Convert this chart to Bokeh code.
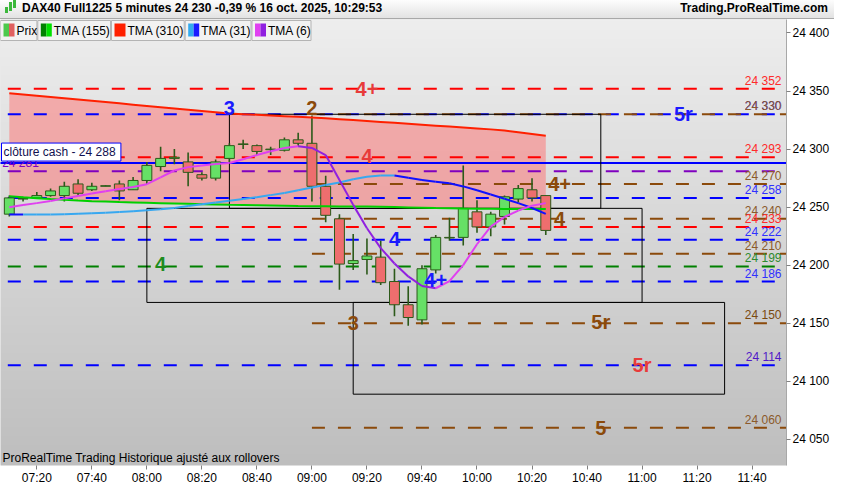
import numpy as np
from bokeh.plotting import figure
from bokeh.models import Range1d, FixedTicker, BoxAnnotation, Label, Div, ColumnDataSource
from bokeh.layouts import column
from bokeh.embed import file_html
from bokeh.resources import INLINE
from bokeh.core.properties import value

# ---------------- data ----------------
times = ["07:10", "07:15", "07:20", "07:25", "07:30", "07:35", "07:40", "07:45", "07:50", "07:55",
         "08:00", "08:05", "08:10", "08:15", "08:20", "08:25", "08:30", "08:35", "08:40", "08:45",
         "08:50", "08:55", "09:00", "09:05", "09:10", "09:15", "09:20", "09:25", "09:30", "09:35",
         "09:40", "09:45", "09:50", "09:55", "10:00", "10:05", "10:10", "10:15", "10:20", "10:25"]
opens = [24244, 24257, 24258, 24260, 24260, 24270, 24265, 24268, 24270, 24265,
         24273, 24285, 24292, 24289, 24278, 24275, 24292, 24304, 24303, 24299.5,
         24299, 24308, 24305, 24268, 24240, 24201.5, 24205, 24207, 24186, 24166,
         24153, 24196, 24224, 24224, 24246, 24233, 24242, 24257, 24265, 24260]
highs = [24260, 24259, 24263, 24266, 24272, 24274, 24271, 24268.8, 24273, 24276,
         24289, 24302, 24300, 24297, 24280, 24291, 24305, 24308, 24304, 24302,
         24310, 24314, 24329, 24277, 24244, 24227, 24223, 24221, 24197, 24182,
         24200, 24226, 24241, 24286, 24256, 24246, 24260, 24269, 24275, 24260]
lows = [24242, 24255, 24257, 24259, 24255, 24260, 24264, 24268, 24256, 24265,
        24270, 24281, 24287, 24268, 24273, 24273, 24289, 24300, 24295, 24295,
        24298, 24303, 24255, 24237, 24179, 24196, 24192, 24183, 24156, 24148,
        24149, 24193, 24221, 24217, 24228, 24225, 24235, 24254, 24255, 24226]
closes = [24258, 24257.5, 24260, 24264, 24268, 24262, 24268, 24268.5, 24264, 24273,
          24286, 24292, 24293, 24280, 24275, 24289, 24303, 24304.5, 24298, 24300,
          24308, 24305, 24268, 24243, 24201, 24204, 24208, 24185, 24166, 24155,
          24197, 24224, 24223.5, 24249, 24233, 24244, 24259, 24266, 24258, 24230]

tma155 = [24259.5, 24258.6, 24257.8, 24257.0, 24256.3, 24255.7, 24255.2, 24254.8, 24254.4, 24254.1,
          24253.8, 24253.5, 24253.2, 24252.9, 24252.6, 24252.3, 24252.0, 24251.8, 24251.6, 24251.4,
          24251.2, 24251.0, 24250.9, 24250.8, 24250.7, 24250.6, 24250.5, 24250.3, 24250.1, 24249.8,
          24249.5, 24249.2, 24249.0, 24248.8, 24248.7, 24248.6, 24248.5, 24248.5, 24248.5, 24248.5]
tma310 = [24348.0, 24347.0, 24346.0, 24344.9, 24343.8, 24342.7, 24341.6, 24340.5, 24339.4, 24338.3,
          24337.2, 24336.1, 24335.0, 24333.9, 24332.8, 24331.7, 24330.6, 24330.1, 24329.6, 24329.0,
          24328.4, 24327.8, 24327.2, 24326.5, 24325.8, 24325.0, 24324.2, 24323.4, 24322.6, 24321.8,
          24321.0, 24320.2, 24319.4, 24318.6, 24317.8, 24317.0, 24316.0, 24314.5, 24313.0, 24311.5]
tma31 = [24243.8, 24243.7, 24243.7, 24243.8, 24244.0, 24244.3, 24244.7, 24245.2, 24245.8, 24246.5,
         24247.3, 24248.2, 24249.3, 24251.0, 24252.5, 24254.0, 24255.5, 24257.0, 24258.6, 24260.4,
         24262.3, 24264.6, 24267.0, 24269.2, 24271.2, 24274.0, 24276.2, 24277.3, 24277.3, 24275.3,
         24273.4, 24272.0, 24270.6, 24267.9, 24264.6, 24260.9, 24257.3, 24253.5, 24249.3, 24244.3]
tma6 = [24249.9, 24251.8, 24253.5, 24255.4, 24257.6, 24259.6, 24261.7, 24263.7, 24265.6, 24267.3,
        24269.8, 24275.6, 24281.6, 24284.5, 24285.8, 24287.2, 24288.0, 24291.3, 24294.9, 24298.2,
        24301.0, 24302.4, 24301.0, 24294.9, 24273.4, 24252.0, 24231.9, 24214.8, 24201.5, 24190.4,
        24182.1, 24180.2, 24186.3, 24200.1, 24218.1, 24233.3, 24241.6, 24247.1, 24251.3, 24253.5]

RED, BLUE, BROWN, GREEN, PURPLE = "#ff0000", "#0000ff", "#8b4a0b", "#008000", "#7f00bf"
level_vals = [24352, 24330, 24330, 24293, 24281, 24270, 24258, 24240, 24233, 24222, 24210, 24199, 24186, 24150, 24114, 24060]
level_colors = [RED, BLUE, BROWN, RED, PURPLE, BROWN, BLUE, BROWN, RED, BLUE, BROWN, GREEN, BLUE, BROWN, BLUE, BROWN]
level_start = ["07:00", "07:00", "09:00", "07:00", "07:00", "09:00", "07:00", "09:00", "07:00", "07:00",
               "09:00", "07:00", "07:00", "09:00", "07:00", "09:00"]
level_label_colors = ["#ff2a2a", "#3030ff", "#8b5a2b", "#ff2a2a", "#8000c0", "#8b5a2b", "#3030ff", "#8b5a2b",
                      "#ff2a2a", "#3030ff", "#8b5a2b", "#2e8b2e", "#3030ff", "#7a4a10", "#5018c8", "#8b5a2b"]
cash_close = 24288

marks_text = ["4+", "3", "2", "5r", "4", "4+", "4", "4", "4", "4+", "3", "5r", "5r", "5"]
marks_time = ["09:20", "08:30", "09:00", "11:15", "09:20", "10:30", "10:30", "08:05", "09:30", "09:45",
              "09:15", "10:45", "11:00", "10:45"]
marks_price = [24352, 24335, 24335, 24330, 24294, 24270, 24240, 24201, 24223, 24187, 24150, 24151, 24114, 24060]
marks_color = ["#e83a3a", "#1a1aff", "#8b4a0b", "#1a1aff", "#e83a3a", "#8b4a0b", "#8b4a0b", "#1e8c1e",
               "#1a1aff", "#1a1aff", "#8b4a0b", "#8b4a0b", "#e83a3a", "#8b4a0b"]

box_left = ["08:30", "08:00", "09:15"]
box_right = ["10:45", "11:00", "11:30"]
box_top = [24330, 24249, 24168]
box_bottom = [24249, 24168, 24089]

x_ticks = ["07:20", "07:40", "08:00", "08:20", "08:40", "09:00", "09:20", "09:40", "10:00", "10:20",
           "10:40", "11:00", "11:20", "11:40"]
y_ticks = [24050, 24100, 24150, 24200, 24250, 24300, 24350, 24400]


def mins(t):
    h, m = t.split(":")
    return (int(h) - 7) * 60 + int(m)


def fmt(v):
    v = int(round(v))
    return f"{v // 1000} {v % 1000:03d}"


FONT = "Liberation Sans"
X0, X1 = 6.8, 292.5
Y0, Y1 = 24027.6, 24411.6
FW, FH = 786, 446

p = figure(frame_width=FW, frame_height=FH, x_range=Range1d(X0, X1), y_range=Range1d(Y0, Y1),
           output_backend="svg", toolbar_location=None, y_axis_location="right",
           min_border_left=0, min_border_top=0, min_border_right=48, min_border_bottom=19,
           outline_line_color=None, border_fill_color="white", background_fill_color="#d6d6d6")
p.xgrid.visible = False
p.ygrid.visible = False

# background gradient
n = 200
top = np.array([238, 238, 238], float)
bot = np.array([190, 190, 190], float)
img = np.zeros((n, 1), dtype=np.uint32)
view = img.view(dtype=np.uint8).reshape((n, 1, 4))
for k in range(n):
    c = bot + (top - bot) * k / (n - 1)
    view[k, 0, 0:3] = c.astype(np.uint8)
    view[k, 0, 3] = 255
p.image_rgba(image=[img], x=X0, y=Y0, dw=X1 - X0, dh=Y1 - Y0)

xs = [mins(t) for t in times]

# fill between TMA 310 and TMA 155
p.varea(x=xs, y1=tma155, y2=tma310, fill_color="#ff7070", fill_alpha=0.5)

# level lines
p.segment(x0=[mins(s) for s in level_start], y0=level_vals, x1=[300] * len(level_vals), y1=level_vals,
          line_color=level_colors, line_width=2, line_dash="13 13")
p.line(x=[0, 300], y=[cash_close, cash_close], line_color="#0000ff", line_width=2)

# boxes
p.quad(left=[mins(t) for t in box_left], right=[mins(t) for t in box_right], top=box_top, bottom=box_bottom,
       fill_color=None, line_color="black", line_width=1)

# candles
up = [c >= o for o, c in zip(opens, closes)]
src = ColumnDataSource(dict(
    x=xs, o=opens, h=highs, l=lows, c=closes,
    top=[max(o, c) for o, c in zip(opens, closes)],
    bottom=[min(o, c) for o, c in zip(opens, closes)],
    color=["#66e066" if u else "#ee6e6e" for u in up]))
p.segment(x0="x", y0="h", x1="x", y1="l", source=src, line_color="#2c5a1a", line_width=1.6)
p.vbar(x="x", top="top", bottom="bottom", width=3.6, source=src, fill_color="color",
       line_color="#2c5a1a", line_width=1)

# moving averages
p.line(x=xs, y=tma155, line_color="#00d000", line_width=2)
p.line(x=xs, y=tma310, line_color="#ff2000", line_width=2)


def seg_colors(vals, c_up, c_dn):
    return [c_up if b >= a else c_dn for a, b in zip(vals[:-1], vals[1:])]


p.segment(x0=xs[:-1], y0=tma31[:-1], x1=xs[1:], y1=tma31[1:],
          line_color=seg_colors(tma31, "#38a8f0", "#1010ff"), line_width=2)
p.segment(x0=xs[:-1], y0=tma6[:-1], x1=xs[1:], y1=tma6[1:],
          line_color=seg_colors(tma6, "#e040f0", "#9020e0"), line_width=2)

# level value labels on the right
right_idx = [i for i, c in enumerate(level_colors) if c != PURPLE]
p.text(x=[290.7] * len(right_idx), y=[level_vals[i] for i in right_idx],
       text=[fmt(level_vals[i]) for i in right_idx],
       text_color=[level_label_colors[i] for i in right_idx],
       text_align="right", text_baseline="bottom", y_offset=-1,
       text_font=value(FONT), text_font_size="12px")
left_idx = [i for i, c in enumerate(level_colors) if c == PURPLE]
p.text(x=[7.4] * len(left_idx), y=[level_vals[i] for i in left_idx],
       text=[fmt(level_vals[i]) for i in left_idx], text_color=[level_label_colors[i] for i in left_idx],
       text_align="left", text_baseline="bottom", y_offset=-1,
       text_font=value(FONT), text_font_size="12px")

# pattern marks
p.text(x=[mins(t) for t in marks_time], y=marks_price, text=marks_text, text_color=marks_color,
       text_align="center", text_baseline="middle", text_font=value(FONT), text_font_size="20px",
       text_font_style="bold")

# cash close label
p.add_layout(Label(x=1, x_units="screen", y=cash_close, text="clôture cash -  " + fmt(cash_close),
                   text_baseline="bottom", y_offset=2, padding=2, background_fill_color="white",
                   border_line_color="#0000ff", border_line_width=1, text_color="#101050",
                   text_font=FONT, text_font_size="12px"))

# bottom note
p.add_layout(Label(x=2, y=1, x_units="screen", y_units="screen",
                   text="ProRealTime Trading  Historique ajusté aux rollovers",
                   text_baseline="bottom", text_font=FONT, text_font_size="12px", text_color="black"))

# legend bar
leg_items = [("Prix", ["#4cc94c", "#e06060"], 0, 36.4),
             ("TMA (155)", ["#008000", "#00e000"], 37.3, 110),
             ("TMA (310)", ["#ff2000"], 111, 183.7),
             ("TMA (31)", ["#33aaee", "#1a1aff"], 184.7, 250.5),
             ("TMA (6)", ["#e040f0", "#9020e0"], 251.5, 310.5)]
for name, cols, l, r in leg_items:
    p.add_layout(BoxAnnotation(left=l, right=r, top=FH - 1, bottom=FH - 21, left_units="screen",
                               right_units="screen", top_units="screen", bottom_units="screen",
                               fill_color="#f2f2f2", fill_alpha=1, line_color="#b4b4b4", line_alpha=1,
                               line_width=1, line_dash="solid"))
    sw = 11.0 / len(cols)
    for k, c in enumerate(cols):
        p.add_layout(BoxAnnotation(left=l + 3 + k * sw, right=l + 3 + (k + 1) * sw, top=FH - 4, bottom=FH - 17,
                                   left_units="screen", right_units="screen", top_units="screen",
                                   bottom_units="screen", fill_color=c, fill_alpha=1, line_alpha=0))
    p.add_layout(Label(x=l + 16, y=FH - 11, x_units="screen", y_units="screen", text=name,
                       text_baseline="middle", text_font=FONT, text_font_size="12px", text_color="black"))

# axes
p.yaxis.ticker = FixedTicker(ticks=y_ticks)
p.yaxis.major_label_overrides = {t: fmt(t) for t in y_ticks}
p.yaxis.axis_line_color = "#a8a8a8"
p.yaxis.major_tick_line_color = "#808080"
p.yaxis.major_tick_out = 4
p.yaxis.major_tick_in = 0
p.yaxis.minor_tick_line_color = None
p.yaxis.major_label_standoff = 2
p.yaxis.major_label_text_font = FONT
p.yaxis.major_label_text_font_size = "12px"
p.yaxis.major_label_text_color = "black"

xt = [mins(t) for t in x_ticks]
p.xaxis.ticker = FixedTicker(ticks=xt)
p.xaxis.major_label_overrides = {mins(t): t for t in x_ticks}
p.xaxis.axis_line_color = None
p.xaxis.major_tick_line_color = "#808080"
p.xaxis.major_tick_out = 4
p.xaxis.major_tick_in = 0
p.xaxis.minor_tick_line_color = None
p.xaxis.major_label_standoff = 1
p.xaxis.major_label_text_font = FONT
p.xaxis.major_label_text_font_size = "12px"
p.xaxis.major_label_text_color = "black"

icon = ("<span style='display:inline-block;width:3px;height:6px;background:#3cb83c;margin:0 1px 0 5px;"
        "vertical-align:-1px'></span><span style='display:inline-block;width:3px;height:9px;background:#3cb83c;"
        "margin-right:1px;vertical-align:1px'></span><span style='display:inline-block;width:3px;height:8px;"
        "background:#3cb83c;margin-right:6px;vertical-align:4px'></span>")
header = Div(text=(
    "<div style=\"width:834px;height:19px;box-sizing:border-box;background:linear-gradient(#fdfdfd,#e2e2e2);"
    "border-bottom:1px solid #a8a8a8;font-family:'Liberation Sans',Arial,sans-serif;font-size:12px;"
    "font-weight:bold;color:black;display:flex;align-items:center;justify-content:space-between;"
    "padding:0 6px 0 0;\"><span>" + icon +
    "DAX40 Full1225 5 minutes 24 230 -0,39 % 16 oct. 2025, 10:29:53</span>"
    "<span>Trading.ProRealTime.com</span></div>"), width=834, height=19, margin=0)

layout = column(header, p, spacing=0)
open("out.html", "w").write(file_html(layout, INLINE))
